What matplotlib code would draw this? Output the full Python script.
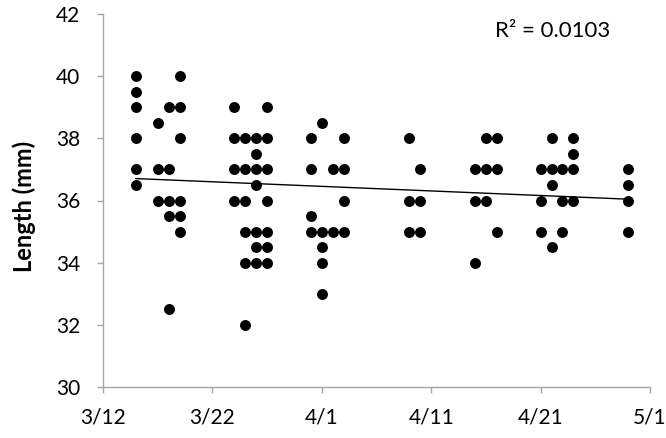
import datetime as dt
import numpy as np
import matplotlib
matplotlib.use("Agg")
import matplotlib.pyplot as plt
import matplotlib.dates as mdates
from matplotlib.ticker import FuncFormatter

YEAR = 2013

# Sampling dates (month, day) and the lengths measured on each date (mm)
sample_dates = [
    (3, 15), (3, 17), (3, 18), (3, 19), (3, 24), (3, 25), (3, 26), (3, 27),
    (3, 31), (4, 1), (4, 2), (4, 3), (4, 9), (4, 10), (4, 15), (4, 16),
    (4, 17), (4, 21), (4, 22), (4, 23), (4, 24), (4, 29),
]
lengths_mm = [
    [40, 39.5, 39, 38, 37, 36.5],
    [38.5, 37, 36],
    [39, 37, 36, 35.5, 32.5],
    [40, 39, 38, 36, 35.5, 35],
    [39, 38, 37, 36],
    [38, 37, 36, 35, 34, 32],
    [38, 37.5, 37, 36.5, 35, 34.5, 34],
    [39, 38, 37, 36, 35, 34.5, 34],
    [38, 37, 35.5, 35],
    [38.5, 35, 34.5, 34, 33],
    [37, 35],
    [38, 37, 36, 35],
    [38, 36, 35],
    [37, 36, 35],
    [37, 36, 34],
    [38, 37, 36],
    [38, 37, 35],
    [37, 36, 35],
    [38, 37, 36.5, 34.5],
    [37, 36, 35],
    [38, 37.5, 37, 36],
    [37, 36.5, 36, 35],
]
r2_label = "R² = 0.0103"
y_title = "Length (mm)"

x_tick_dates = [(3, 12), (3, 22), (4, 1), (4, 11), (4, 21), (5, 1)]
y_ticks = [30, 32, 34, 36, 38, 40, 42]

plt.rcParams["font.family"] = ["Lato", "DejaVu Sans"]

# Flatten into point lists
xs, ys = [], []
for (m, d), vals in zip(sample_dates, lengths_mm):
    for v in vals:
        xs.append(mdates.date2num(dt.datetime(YEAR, m, d)))
        ys.append(v)
xs = np.array(xs)
ys = np.array(ys)

W, H = 666, 438
fig = plt.figure(figsize=(W / 100, H / 100), dpi=100)
ax = fig.add_axes([103 / W, 1 - 387 / H, (650 - 103) / W, (387 - 14) / H])

ax.scatter(xs, ys, s=62, color="black", linewidths=0, zorder=3)

# Linear trend line over the sampled date range
slope, intercept = np.polyfit(xs, ys, 1)
xl = np.array([xs.min(), xs.max()])
ax.plot(xl, slope * xl + intercept, color="black", lw=1.0, zorder=2)

xt = [mdates.date2num(dt.datetime(YEAR, m, d)) for m, d in x_tick_dates]
ax.set_xlim(xt[0], xt[-1])
ax.set_xticks(xt)
ax.xaxis.set_major_formatter(FuncFormatter(
    lambda v, pos: "{}/{}".format(mdates.num2date(v).month, mdates.num2date(v).day)))
ax.set_ylim(30, 42)
ax.set_yticks(y_ticks)

for side in ("top", "right"):
    ax.spines[side].set_visible(False)
for side in ("left", "bottom"):
    ax.spines[side].set_color("#a6a6a6")
    ax.spines[side].set_linewidth(1.0)
ax.tick_params(axis="both", colors="#a6a6a6", length=4.5, width=1.0,
               labelsize=15, labelcolor="#000000", direction="out")
ax.tick_params(axis="x", pad=10)
ax.tick_params(axis="y", pad=12)

fig.text(24 / W, 1 - 206 / H, y_title, rotation=90, fontsize=17,
         fontweight="bold", ha="center", va="center")

ax.text(0.716, 0.955, r2_label, transform=ax.transAxes, fontsize=16,
        ha="left", va="center")

fig.savefig("out.png", dpi=100)
